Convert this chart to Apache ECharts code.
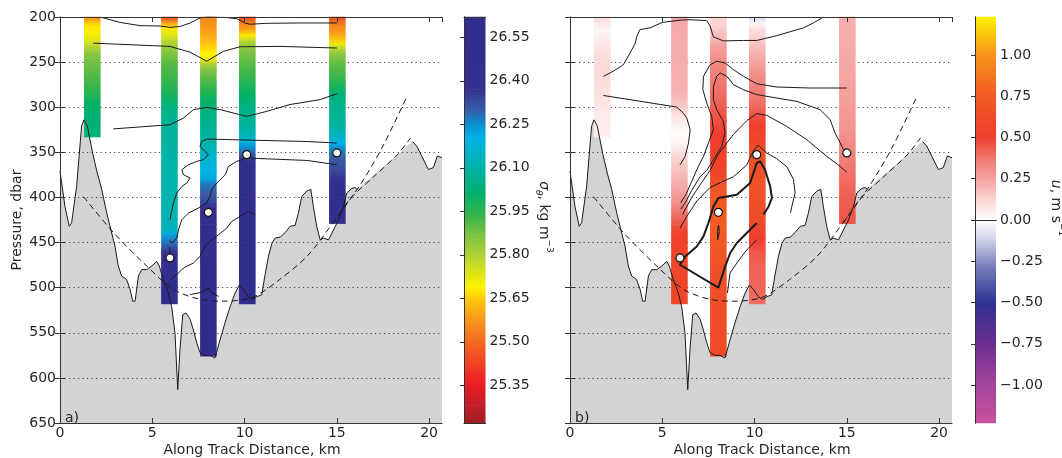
<!DOCTYPE html>
<html>
<head>
<meta charset="utf-8">
<script src="https://cdn.jsdelivr.net/npm/echarts@6.0.0/dist/echarts.min.js"></script>
<style>
html,body{margin:0;padding:0;background:#ffffff;}
#chart{width:1062px;height:458px;}
</style>
</head>
<body>
<div id="chart"></div>
<script>
// ================= DATA =================
const stationKm = [1.75, 5.93, 8.04, 10.15, 15.03];

// panel a: potential density profiles (pressure, sigma_theta)
const sigP1 = [200,205,210,218,226,232,238,245,260,275,288,295,310,333];
const sigV1 = [25.56,25.62,25.68,25.70,25.73,25.78,25.83,25.87,25.90,25.93,25.97,26.00,26.02,26.03];
const sigP2 = [200,203,207,212,218,225,232,240,250,265,280,292,300,320,360,400,436,440,450,457,462,490,518];
const sigV2 = [25.42,25.50,25.60,25.68,25.72,25.77,25.82,25.86,25.90,25.93,25.96,26.00,26.04,26.08,26.10,26.11,26.13,26.22,26.28,26.33,26.45,26.52,26.55];
const sigP3 = [200,210,220,230,240,247,252,260,270,280,290,300,320,340,350,360,370,380,385,395,405,410,430,500,576];
const sigV3 = [25.55,25.57,25.60,25.64,25.69,25.71,25.80,25.87,25.91,25.95,25.99,26.02,26.07,26.10,26.14,26.17,26.20,26.22,26.27,26.30,26.33,26.45,26.50,26.55,26.58];
const sigP4 = [200,203,208,215,220,224,228,235,245,260,275,290,300,320,330,338,345,352,358,365,400,450,518];
const sigV4 = [25.42,25.48,25.55,25.60,25.68,25.74,25.80,25.85,25.89,25.92,25.97,26.01,26.05,26.08,26.12,26.18,26.25,26.30,26.40,26.50,26.52,26.55,26.56];
const sigP5 = [200,205,210,220,226,230,235,240,250,262,275,285,300,320,330,340,345,355,370,380,400,429];
const sigV5 = [25.45,25.50,25.55,25.60,25.65,25.72,25.78,25.84,25.89,25.92,25.97,26.02,26.06,26.09,26.13,26.20,26.25,26.30,26.33,26.45,26.50,26.52];

// panel b: velocity profiles (pressure, u)
const uP1 = [200,205,210,215,220,230,240,250,260,270,280,290,300,310,320,333];
const uV1 = [0.10,0.08,0.05,0.03,0.04,0.07,0.09,0.10,0.11,0.10,0.09,0.08,0.07,0.06,0.06,0.05];
const uP2 = [200,220,240,260,280,292,300,310,320,330,340,350,360,375,390,405,417,430,440,460,480,500,518];
const uV2 = [0.24,0.23,0.23,0.22,0.21,0.18,0.14,0.08,0.04,0.01,0.03,0.09,0.14,0.19,0.24,0.30,0.38,0.45,0.52,0.56,0.57,0.58,0.58];
const uP3 = [200,210,218,225,232,245,255,270,285,300,315,330,345,360,375,390,410,430,450,470,490,520,550,576];
const uV3 = [0.12,0.13,0.17,0.20,0.26,0.31,0.34,0.37,0.40,0.43,0.46,0.50,0.53,0.55,0.60,0.70,0.75,0.76,0.74,0.68,0.65,0.64,0.63,0.62];
const uP4 = [200,204,208,214,225,236,250,262,275,292,305,318,330,345,360,380,400,420,435,447,460,476,500,518];
const uV4 = [-0.12,-0.05,0.03,0.10,0.14,0.20,0.25,0.30,0.34,0.38,0.43,0.50,0.55,0.62,0.66,0.67,0.66,0.62,0.56,0.50,0.45,0.42,0.41,0.40];
const uP5 = [200,230,260,290,320,340,360,380,400,429];
const uV5 = [0.22,0.23,0.24,0.26,0.29,0.32,0.36,0.40,0.43,0.45];

// bathymetry [km, dbar]
const bathy = [[0,371],[0.27,410],[0.5,432],[0.63,428],[0.9,388],[1.17,321],[1.3,314],[1.48,321],[1.77,351],[2.02,373],[2.26,391],[2.53,417],[2.76,436],[2.98,454],[3.16,476],[3.34,487],[3.61,491],[3.8,502],[3.94,515],[4.07,515],[4.25,487],[4.43,480],[4.7,480],[4.97,476],[5.24,471],[5.38,476],[5.6,491],[5.87,506],[6.05,521],[6.23,550],[6.38,613],[6.5,569],[6.65,530],[6.83,528],[7.05,535],[7.23,547],[7.41,561],[7.59,572],[7.86,575],[8.13,575],[8.4,578],[8.67,558],[8.94,539],[9.22,521],[9.49,506],[9.72,497],[9.94,502],[10.2,510],[10.44,513],[10.66,510],[10.93,508],[11.1,487],[11.3,465],[11.48,451],[11.66,445],[11.93,444],[12.2,439],[12.47,432],[12.74,431],[12.92,417],[13.1,399],[13.37,393],[13.59,391],[13.73,410],[13.91,432],[14.1,447],[14.27,445],[14.55,447],[14.82,436],[15.09,425],[15.36,410],[15.54,395],[15.81,390],[15.99,389],[16.1,391],[19.1,338],[19.33,343],[19.6,354],[19.96,369],[20.23,367],[20.45,354],[20.7,356]];

// dashed curves
const dashA = [[1.27,399],[2.9,439],[4.7,476],[6.15,502],[7.6,513],[9.0,515],[10.5,510],[11.9,491],[13.4,465],[14.8,428],[16.3,385],[17.5,343],[18.8,288]];
const dashB = [[14.8,428],[15.3,414],[15.73,401],[17.0,377],[18.26,353],[19.0,334]];

// observation markers
const obsKm = [5.96, 8.04, 10.12, 15.0];
const obsP = [467, 416.5, 352.6, 350.7];

// panel a contours
const cA1 = [[2.17,200],[3.25,206],[4.34,209.6],[5.42,210],[5.96,211.5],[6.5,210.5],[7.05,206.7],[7.59,201],[8.0,200],[9.0,200.5],[9.6,202],[10.05,207],[10.3,208],[11.2,207],[13.0,206.6],[15.0,206.6]];
const cA2 = [[1.81,229],[5.96,232.6],[7.05,239],[7.95,249],[8.86,238],[9.76,233],[11.93,232.6],[15.0,234.4]];
const cA3 = [[2.89,324],[5.96,319.4],[6.69,312],[7.23,302.7],[7.95,300.2],[8.68,302.7],[10.12,310.2],[11.2,304.6],[12.47,297],[14.1,291.6],[15.0,285]];
const cA4 = [[15.0,339.7],[13.38,338],[7.95,335.3],[7.68,338],[7.59,343.4],[7.86,349],[8.04,352.6],[7.77,358.2],[7.41,360],[6.96,363.7],[6.6,369.3],[6.69,374.8],[7.05,378.5],[6.87,384],[6.6,387.8],[6.33,395.1],[6.14,406.2],[6.05,415.5],[5.96,424.7]];
const cA5 = [[15.0,363.7],[13.38,359],[10.12,356.3],[9.58,360],[9.13,365.6],[8.95,374.8],[8.5,384],[8.22,391.4],[8.13,398.8],[7.95,406.2],[7.5,411.7],[6.96,417.3],[6.6,424.7],[6.42,435.8],[6.33,445],[6.05,450.6],[5.96,448]];
const cA6 = [[5.95,455],[5.97,462]];
const cA7 = [[10.57,419],[10.21,415.5],[9.76,421],[9.31,426.6],[9.04,434],[8.59,441.3],[8.13,448.7],[7.86,454.3],[7.59,465.4],[7.23,472.7],[6.69,478.2],[6.33,485.6],[5.96,491.2]];
const cA8 = [[7.05,507.8],[7.68,505],[8.04,500.4],[8.17,505],[8.59,509.7]];

// panel b contours
const cB1 = [[1.81,265.8],[2.35,260],[2.89,253],[3.25,240],[3.52,230],[3.62,221.5],[3.79,214],[4.34,212],[5.0,206],[5.96,203.5],[6.5,203],[7.41,204],[7.59,210],[7.77,222],[8.31,226.5],[9.4,226],[10.12,226],[11.2,220.7],[12.65,212],[13.19,206.6],[13.73,200]];
const cB2 = [[1.81,287],[5.78,299.8],[6.14,306.4],[6.33,312],[6.51,325],[6.42,339.7],[6.24,354.5],[5.96,364]];
const cB3 = [[15.0,278.7],[13.0,278.7],[11.2,277.6],[10.12,274],[9.4,265.8],[8.86,258.4],[8.41,251],[7.95,249],[7.59,253],[7.23,265.8],[7.2,280.6],[7.41,295.3],[7.68,310.2],[7.77,325],[7.5,339.7],[7.23,354.5],[6.87,369.3],[6.6,382],[6.3,396],[6.0,406]];
const cB4 = [[15.0,350.7],[14.8,346],[14.63,339],[14.36,328.6],[14.1,313.8],[13.55,302.7],[12.29,293.5],[11.2,289.8],[10.12,286],[9.4,280.6],[8.86,275],[8.5,265.8],[8.13,262],[7.95,265.8],[7.77,277],[7.77,291.7],[7.95,302.7],[8.31,315.7],[8.4,328.6],[8.22,343.4],[7.77,358.2],[7.41,370],[7.05,377],[6.6,392],[6.3,404],[6.0,413]];
const cB5 = [[15.0,372],[14.64,365.6],[13.92,354.5],[12.83,336],[11.75,321.3],[10.66,309],[10.12,307],[9.58,315],[8.86,330],[8.45,341],[8.0,353],[7.59,370],[7.05,386],[6.6,400],[6.3,411],[6.1,419]];
const cB6 = [[5.96,434],[6.3,422],[6.87,404],[7.59,389],[8.2,383],[8.86,377],[9.58,364],[9.94,348],[10.2,342],[10.66,350.7],[11.2,357],[11.75,366],[12.11,380],[12.2,395],[12.02,410],[11.95,417]];
const cB7 = [[10.12,447],[9.58,458],[9.04,472.7],[8.67,483.7],[8.53,506]];
const cBloop = [[10.49,419],[10.76,410],[10.94,400.7],[10.85,387.8],[10.57,369.3],[10.3,360],[10.12,361.8],[9.76,384],[9.04,397],[8.04,400.7],[7.77,410],[7.5,428.3],[7.23,443.2],[6.87,454.3],[6.24,465.4],[5.96,474.6],[8.04,500],[8.13,494],[8.41,476.4],[8.68,461.6],[9.04,450.5],[9.58,439.4],[10.12,428.3]];
const cBcore = [[8.04,431],[7.99,438],[8.01,447],[8.07,447],[8.09,438],[8.06,431],[8.04,431]];

// colour-bar tick values
const sigmaTicks = [25.35,25.50,25.65,25.80,25.95,26.10,26.25,26.40,26.55];
const uTicks = [-1.00,-0.75,-0.50,-0.25,0.00,0.25,0.50,0.75,1.00];

// ================= STYLE =================
const FONT = 'DejaVu Sans';
const TXT = '#262626';
const SIGMA_CMAP = [[25.22,'#9e1f22'],[25.28,'#c21f2a'],[25.36,'#ed1c24'],[25.41,'#ef3b24'],[25.49,'#f26522'],[25.57,'#f7941d'],[25.64,'#ffc20e'],[25.69,'#fff200'],[25.79,'#b5d334'],[25.87,'#7cc242'],[25.93,'#3db549'],[26.01,'#00b16b'],[26.10,'#00b3a8'],[26.20,'#00b4e6'],[26.25,'#0a8fd0'],[26.30,'#3a5ca8'],[26.37,'#34318f'],[26.62,'#302c8c']];
const U_CMAP = [[-1.23,'#c8529f'],[-0.98,'#a0449a'],[-0.74,'#682e8f'],[-0.5,'#2e3192'],[-0.28,'#7a7fba'],[-0.12,'#cfd1e8'],[0,'#ffffff'],[0.12,'#fad6d4'],[0.25,'#f4a3a0'],[0.37,'#f07a72'],[0.5,'#ee3d2c'],[0.75,'#f15a24'],[1.0,'#f7941d'],[1.12,'#fcc30f'],[1.23,'#fff200']];

function hex2rgb(h){return [parseInt(h.slice(1,3),16),parseInt(h.slice(3,5),16),parseInt(h.slice(5,7),16)];}
function cmap(stops, v){
  if (v <= stops[0][0]) return stops[0][1];
  if (v >= stops[stops.length-1][0]) return stops[stops.length-1][1];
  for (let i=0;i<stops.length-1;i++){
    const a=stops[i], b=stops[i+1];
    if (v>=a[0] && v<=b[0]){
      const t=(v-a[0])/(b[0]-a[0]);
      const ca=hex2rgb(a[1]), cb=hex2rgb(b[1]);
      return 'rgb('+ca.map((c,k)=>Math.round(c+(cb[k]-c)*t)).join(',')+')';
    }
  }
  return stops[0][1];
}

function profileData(Ps, Vs){
  const out=[];
  Ps.forEach((P,k)=>{const V=Vs[k];for(let i=0;i<P.length-1;i++) out.push([stationKm[k],P[i],P[i+1],V[i],V[i+1]]);});
  return out;
}
function cbarData(stops){
  const out=[];
  for(let i=0;i<stops.length-1;i++) out.push([0.5,stops[i][0],stops[i+1][0],stops[i][0],stops[i+1][0]]);
  return out;
}
function makeRender(stops, halfW){
  return function(params, api){
    const x=api.value(0);
    const a=api.coord([x-halfW, api.value(1)]);
    const b=api.coord([x+halfW, api.value(2)]);
    const top=Math.min(a[1],b[1]), bot=Math.max(a[1],b[1]);
    const vTop = a[1]<=b[1] ? api.value(3) : api.value(4);
    const vBot = a[1]<=b[1] ? api.value(4) : api.value(3);
    return {type:'rect',
      shape:{x:Math.min(a[0],b[0]), y:top-0.3, width:Math.abs(b[0]-a[0]), height:bot-top+0.6},
      style:{fill:new echarts.graphic.LinearGradient(0,0,0,1,[{offset:0,color:cmap(stops,vTop)},{offset:1,color:cmap(stops,vBot)}])}};
  };
}

const LINE = {show:true, lineStyle:{color:'#333', width:1}};
function mainX(g, pos, labels){
  return {gridIndex:g, type:'value', position:pos, min:0, max:20.7, interval:5, z: pos==='top'?7:2,
    axisLine:LINE, axisTick:{show:true, inside:true, length:5, lineStyle:{color:'#333'}},
    axisLabel:{show:labels, fontFamily:FONT, fontSize:14, color:TXT, margin:3, showMaxLabel:false},
    splitLine:{show:false}};
}
function mainY(g, pos, labels){
  return {gridIndex:g, type:'value', position:pos, inverse:true, min:200, max:650, interval:50, z: pos==='right'?7:2,
    axisLine:LINE, axisTick:{show:true, inside:true, length:5, lineStyle:{color:'#333'}},
    axisLabel:{show:labels, fontFamily:FONT, fontSize:14, color:TXT, margin:4},
    splitLine:{show:pos==='left', lineStyle:{type:[1.2,3.3], color:'#444', width:1}}};
}
function cbX(g,pos){return {gridIndex:g,type:'value',position:pos,min:0,max:1,z:7,axisLine:LINE,axisTick:{show:false},axisLabel:{show:false},splitLine:{show:false}};}
function cbY(g,pos,min,max,ticks,fmt){
  const right = pos==='right';
  return {gridIndex:g,type:'value',position:pos,min:min,max:max,z:7,axisLine:LINE,
    axisTick:{show:right,inside:true,length:4,lineStyle:{color:'#333'},customValues:ticks},
    axisLabel:{show:right,customValues:ticks,formatter:fmt,fontFamily:FONT,fontSize:14,color:TXT,margin:4},
    splitLine:{show:false}};
}

function panelSeries(xi, yi, profData, stops){
  const s=[];
  const gapLine=[];
  for(let i=0;i<bathy.length;i++){
    gapLine.push(bathy[i]);
    if(i<bathy.length-1 && bathy[i+1][0]-bathy[i][0]>2) gapLine.push([(bathy[i][0]+bathy[i+1][0])/2,null]);
  }
  s.push({type:'line',xAxisIndex:xi,yAxisIndex:yi,data:bathy,symbol:'none',silent:true,z:1,
    lineStyle:{width:0,opacity:0},areaStyle:{color:'#d1d3d5',opacity:1,origin:'end'}});
  s.push({type:'custom',xAxisIndex:xi,yAxisIndex:yi,data:profData,renderItem:makeRender(stops,0.45),silent:true,z:3});
  s.push({type:'line',xAxisIndex:xi,yAxisIndex:yi,data:gapLine,symbol:'none',silent:true,z:4,connectNulls:false,
    lineStyle:{color:'#1a1a1a',width:1}});
  return s;
}
function contour(xi, yi, data, w){
  return {type:'line',xAxisIndex:xi,yAxisIndex:yi,data:data,symbol:'none',silent:true,z:5,
    lineStyle:{color:'#1a1a1a',width:w||1}};
}
function dashed(xi, yi, data){
  return {type:'line',xAxisIndex:xi,yAxisIndex:yi,data:data,symbol:'none',silent:true,z:5,smooth:0.3,
    lineStyle:{color:'#1a1a1a',width:1,type:[6,4]}};
}
function markers(xi, yi){
  return {type:'scatter',xAxisIndex:xi,yAxisIndex:yi,data:obsKm.map((k,i)=>[k,obsP[i]]),symbol:'circle',symbolSize:8,silent:true,z:6,
    itemStyle:{color:'#ffffff',borderColor:'#111',borderWidth:1.2,opacity:1}};
}

const series=[];
// panel a
panelSeries(0,0,profileData([sigP1,sigP2,sigP3,sigP4,sigP5],[sigV1,sigV2,sigV3,sigV4,sigV5]),SIGMA_CMAP).forEach(x=>series.push(x));
[cA1,cA2,cA3,cA4,cA5,cA6,cA7,cA8].forEach(c=>series.push(contour(0,0,c)));
series.push(dashed(0,0,dashA)); series.push(dashed(0,0,dashB));
series.push(markers(0,0));
// colorbar a
series.push({type:'custom',xAxisIndex:2,yAxisIndex:2,data:cbarData(SIGMA_CMAP),renderItem:makeRender(SIGMA_CMAP,0.5),silent:true,z:3});
// panel b
panelSeries(4,4,profileData([uP1,uP2,uP3,uP4,uP5],[uV1,uV2,uV3,uV4,uV5]),U_CMAP).forEach(x=>series.push(x));
[cB1,cB2,cB3,cB4,cB5,cB6,cB7,cBcore].forEach(c=>series.push(contour(4,4,c)));
series.push(contour(4,4,cBloop,2));
series.push(dashed(4,4,dashA)); series.push(dashed(4,4,dashB));
series.push(markers(4,4));
// colorbar b
series.push({type:'custom',xAxisIndex:6,yAxisIndex:6,data:cbarData(U_CMAP),renderItem:makeRender(U_CMAP,0.5),silent:true,z:3});

const sigFmt = v => v.toFixed(2);
const uFmt = v => (v < -1e-9 ? '\u2212' : '') + Math.abs(v).toFixed(2);

const txt = (x,y,text,extra) => Object.assign({type:'text',x:x,y:y,z:20,silent:true,
  style:{text:text,fill:TXT,font:'14px "'+FONT+'"',align:'center',verticalAlign:'middle'}},extra||{});

const option = {
  animation:false,
  backgroundColor:'#ffffff',
  grid:[
    {left:60, top:17, width:382, height:406},
    {left:464, top:17, width:21.5, height:406},
    {left:570, top:17, width:382, height:406},
    {left:975, top:17, width:21, height:406}
  ],
  xAxis:[mainX(0,'bottom',true), mainX(0,'top',false), cbX(1,'bottom'), cbX(1,'top'),
         mainX(2,'bottom',true), mainX(2,'top',false), cbX(3,'bottom'), cbX(3,'top')],
  yAxis:[mainY(0,'left',true), mainY(0,'right',false), cbY(1,'left',25.22,26.62,sigmaTicks,sigFmt), cbY(1,'right',25.22,26.62,sigmaTicks,sigFmt),
         mainY(2,'left',false), mainY(2,'right',false), cbY(3,'left',-1.23,1.23,uTicks,uFmt), cbY(3,'right',-1.23,1.23,uTicks,uFmt)],
  series:series,
  graphic:[
    txt(17,220,'Pressure, dbar',{rotation:Math.PI/2}),
    txt(252,450,'Along Track Distance, km'),
    txt(762,450,'Along Track Distance, km'),
    {type:'text',x:65,y:418,z:20,silent:true,style:{text:'a)',fill:TXT,font:'14px "'+FONT+'"',align:'left',verticalAlign:'middle'}},
    {type:'text',x:575,y:418,z:20,silent:true,style:{text:'b)',fill:TXT,font:'14px "'+FONT+'"',align:'left',verticalAlign:'middle'}},
    {type:'text',x:544,y:217,z:20,rotation:-Math.PI/2,silent:true,
      style:{text:'{i|σ}{s|θ}{n|, kg m}{p|−3}',align:'center',verticalAlign:'middle',
        rich:{i:{fontFamily:FONT,fontSize:14,fontStyle:'italic',fill:TXT,lineHeight:20,verticalAlign:'middle'},
              s:{fontFamily:FONT,fontSize:9,fontStyle:'italic',fill:TXT,lineHeight:12,verticalAlign:'bottom'},
              n:{fontFamily:FONT,fontSize:14,fill:TXT,lineHeight:20,verticalAlign:'middle'},
              p:{fontFamily:FONT,fontSize:9,fill:TXT,lineHeight:12,verticalAlign:'top'}}}},
    {type:'text',x:1056,y:208,z:20,rotation:-Math.PI/2,silent:true,
      style:{text:'{i|u}{n|, m s}{p|−1}',align:'center',verticalAlign:'middle',
        rich:{i:{fontFamily:FONT,fontSize:14,fontStyle:'italic',fill:TXT,lineHeight:20,verticalAlign:'middle'},
              n:{fontFamily:FONT,fontSize:14,fill:TXT,lineHeight:20,verticalAlign:'middle'},
              p:{fontFamily:FONT,fontSize:9,fill:TXT,lineHeight:12,verticalAlign:'top'}}}}
  ]
};
const chart = echarts.init(document.getElementById('chart'), null, {renderer:'canvas'});
chart.setOption(option);
</script>
</body>
</html>
